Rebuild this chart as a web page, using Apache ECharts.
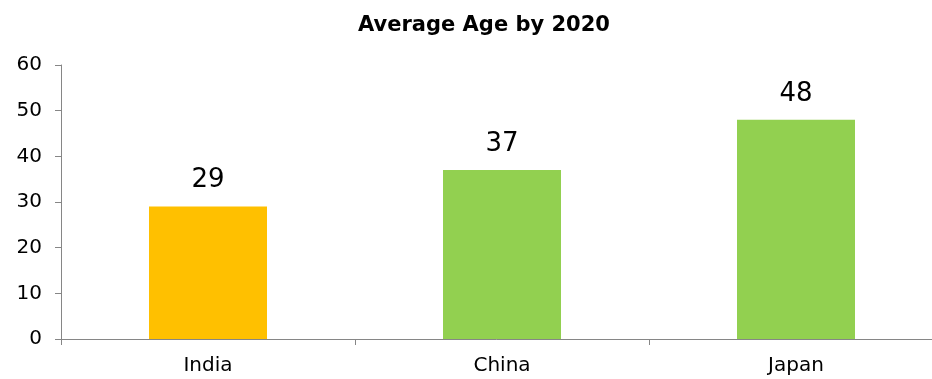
<!DOCTYPE html>
<html><head><meta charset="utf-8">
<script src="https://cdn.jsdelivr.net/npm/echarts@6/dist/echarts.min.js"></script>
<style>html,body{margin:0;padding:0;background:#fff;overflow:hidden}#c{width:932px;height:379px}</style>
</head><body><div id="c"></div>
<script>
const titleText = "Average Age by 2020";
const categories = ["India", "China", "Japan"];
const values = [29, 37, 48];
const barColors = ["#FFC000", "#92D050", "#92D050"];
const yTicks = [0, 10, 20, 30, 40, 50, 60];

const chart = echarts.init(document.getElementById('c'));
const font = "Verdana, 'DejaVu Sans', sans-serif";
chart.setOption({
  animation: false,
  title: {
    text: titleText, left: 479, top: 10, textAlign: 'center',
    textStyle: {fontFamily: font, fontWeight: 'bold', fontSize: 21, color: '#000'}
  },
  grid: {left: 61, width: 882, top: 65, height: 274, containLabel: false, outerBoundsMode: 'none'},
  xAxis: {
    type: 'category', data: categories,
    axisLine: {lineStyle: {color: '#868686', width: 1}},
    axisTick: {show: true, alignWithLabel: false, length: 6, lineStyle: {color: '#868686'}},
    axisLabel: {fontFamily: font, fontSize: 20, color: '#000', margin: 17}
  },
  yAxis: {
    type: 'value', min: yTicks[0], max: yTicks[yTicks.length - 1], interval: 10,
    axisLine: {show: true, lineStyle: {color: '#868686', width: 1}},
    axisTick: {show: true, length: 6, lineStyle: {color: '#868686'}},
    splitLine: {show: false},
    axisLabel: {fontFamily: font, fontSize: 20, color: '#000', margin: 19}
  },
  series: [{
    type: 'bar', barWidth: 118,
    data: values.map((v, i) => ({value: v, itemStyle: {color: barColors[i]}})),
    label: {show: true, position: 'top', distance: 13, fontFamily: font, fontSize: 26, color: '#000'}
  }]
});
</script></body></html>
